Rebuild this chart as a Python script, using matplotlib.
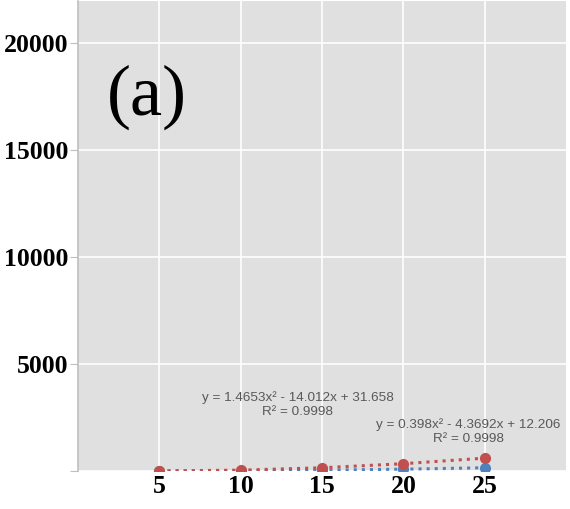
import matplotlib.pyplot as plt
import numpy as np

# data
x_red = [5, 10, 15, 20, 25]
y_red = [0, 40, 150, 340, 600]
x_blue = [5, 10, 15, 20, 25]
y_blue = [0, 8, 35, 85, 150]

x_ticks = [5, 10, 15, 20, 25]
y_ticks = [0, 5000, 10000, 15000, 20000]
y_labels = ['', '5000', '10000', '15000', '20000']

eq_red = 'y = 1.4653x² - 14.012x + 31.658\nR² = 0.9998'
eq_blue = 'y = 0.398x² - 4.3692x + 12.206\nR² = 0.9998'

red = '#C0504D'
blue = '#4F81BD'

fig = plt.figure(figsize=(5.7, 5.09), dpi=100)
ax = fig.add_axes([0.137, 0.0747, 0.856, 0.923])
ax.set_facecolor('#E0E0E0')

# dotted trend lines + markers
ax.plot(x_blue, y_blue, ':', color=blue, lw=2.2, zorder=3)
ax.plot(x_red, y_red, ':', color=red, lw=2.2, zorder=3)
ax.plot(x_blue, y_blue, 'o', color=blue, ms=7, zorder=4)
ax.plot(x_red, y_red, 'o', color=red, ms=7, zorder=5)

ax.set_xlim(0, 30)
ax.set_ylim(0, 21950)
ax.set_xticks(x_ticks)
ax.set_xticklabels([str(v) for v in x_ticks])
ax.set_yticks(y_ticks)
ax.set_yticklabels(y_labels)
ax.grid(True, color='white', lw=1.2)
ax.set_axisbelow(True)

for lab in ax.get_xticklabels() + ax.get_yticklabels():
    lab.set_family('Liberation Serif')
    lab.set_fontweight('bold')
    lab.set_fontsize(18.5)
ax.tick_params(axis='x', length=0, pad=3)
ax.tick_params(axis='y', length=6, color='#BFBFBF', pad=1)

for s in ['top', 'right', 'bottom']:
    ax.spines[s].set_visible(False)
ax.spines['left'].set_color('#BFBFBF')
ax.spines['left'].set_linewidth(1.2)

ax.text(13.5, 3100, eq_red, ha='center', va='center', fontsize=9.7,
        color='#595959', family='Liberation Sans', linespacing=1.25)
ax.text(24.0, 1840, eq_blue, ha='center', va='center', fontsize=9.7,
        color='#595959', family='Liberation Sans', linespacing=1.25)

ax.text(0.06, 0.795, '(a)', transform=ax.transAxes, fontsize=52,
        family='Liberation Serif', va='center', ha='left')

fig.savefig('out.png', dpi=100)
